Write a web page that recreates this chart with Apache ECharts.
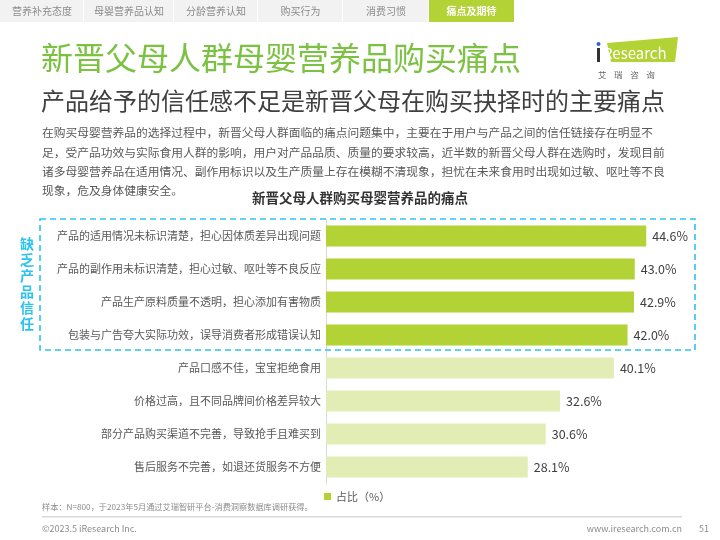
<!DOCTYPE html>
<html>
<head>
<meta charset="utf-8">
<script src="https://cdn.jsdelivr.net/npm/echarts@6/dist/echarts.min.js"></script>
<style>
html,body{margin:0;padding:0;background:#fff;}
#chart{width:720px;height:540px;}
</style>
</head>
<body>
<div id="chart"></div>
<script>
var categories = [
  '产品的适用情况未标识清楚，担心因体质差异出现问题',
  '产品的副作用未标识清楚，担心过敏、呕吐等不良反应',
  '产品生产原料质量不透明，担心添加有害物质',
  '包装与广告夸大实际功效，误导消费者形成错误认知',
  '产品口感不佳，宝宝拒绝食用',
  '价格过高，且不同品牌间价格差异较大',
  '部分产品购买渠道不完善，导致抢手且难买到',
  '售后服务不完善，如退还货服务不方便'
];
var shareValues = [44.6, 43.0, 42.9, 42.0, 40.1, 32.6, 30.6, 28.1];
var seriesName = '占比（%）';
var tabs = ['营养补充态度', '母婴营养品认知', '分龄营养认知', '购买行为', '消费习惯', '痛点及期待'];
var highlightCount = 4;

var FONT = '"Noto Sans CJK SC", "Noto Sans", sans-serif';
var DARK = '#B2D235';
var LIGHT = '#E1EDB5';
var CYAN = '#2CC3F0';

var chart = echarts.init(document.getElementById('chart'), null, {renderer: 'canvas'});

var tabBounds = [[0, 84], [84, 174], [174, 258], [258, 343], [343, 429], [429, 514]];
var graphics = [];
tabs.forEach(function (t, i) {
  var b = tabBounds[i];
  var active = i === tabs.length - 1;
  graphics.push({
    type: 'rect', silent: true,
    shape: {x: b[0], y: 0, width: b[1] - b[0] - (active ? 0 : 1), height: 22},
    style: {fill: active ? DARK : '#F2F2F2'}
  });
  graphics.push({
    type: 'text', silent: true,
    x: (b[0] + b[1]) / 2, y: 11,
    style: {text: t, fill: active ? '#fff' : '#8C8C8C', font: (active ? 'bold ' : '') + '10px ' + FONT,
      textAlign: 'center', textVerticalAlign: 'middle'}
  });
});

graphics.push({type: 'text', silent: true, x: 41, y: 58,
  style: {text: '新晋父母人群母婴营养品购买痛点', fill: '#7CC242', font: '32px ' + FONT, textVerticalAlign: 'middle'}});
graphics.push({type: 'text', silent: true, x: 41, y: 101,
  style: {text: '产品给予的信任感不足是新晋父母在购买抉择时的主要痛点', fill: '#404040', font: '24px ' + FONT, textVerticalAlign: 'middle'}});

var para = [
  '在购买母婴营养品的选择过程中，新晋父母人群面临的痛点问题集中，主要在于用户与产品之间的信任链接存在明显不',
  '足，受产品功效与实际食用人群的影响，用户对产品品质、质量的要求较高，近半数的新晋父母人群在选购时，发现目前',
  '诸多母婴营养品在适用情况、副作用标识以及生产质量上存在模糊不清现象，担忧在未来食用时出现如过敏、呕吐等不良',
  '现象，危及身体健康安全。'
];
para.forEach(function (line, i) {
  graphics.push({type: 'text', silent: true, x: 42, y: 133 + i * 19.3,
    style: {text: line, fill: '#595959', font: '11.75px ' + FONT, textVerticalAlign: 'middle'}});
});

graphics.push({type: 'text', silent: true, x: 360, y: 198,
  style: {text: '新晋父母人群购买母婴营养品的痛点', fill: '#333', font: 'bold 13.5px ' + FONT,
    textAlign: 'center', textVerticalAlign: 'middle'}});

// logo
graphics.push({type: 'polygon', silent: true,
  shape: {points: [[607, 43], [678, 37], [675, 62], [611, 62]]}, style: {fill: DARK}});
graphics.push({type: 'rect', silent: true, shape: {x: 597, y: 48, width: 3, height: 14}, style: {fill: '#333'}});
graphics.push({type: 'circle', silent: true, shape: {cx: 598.5, cy: 44, r: 2}, style: {fill: '#2B66C9'}});
graphics.push({type: 'text', silent: true, x: 603, y: 53,
  style: {text: 'Research', fill: '#fff', font: '15px ' + FONT, textVerticalAlign: 'middle'}});
graphics.push({type: 'text', silent: true, x: 598, y: 75,
  style: {text: '艾    瑞    咨    询', fill: '#666', font: '8.5px ' + FONT, textVerticalAlign: 'middle'}});

graphics.push({type: 'rect', silent: true, z: 10,
  shape: {x: 40, y: 219, width: 655, height: 131},
  style: {fill: 'none', stroke: CYAN, lineWidth: 1.6, lineDash: [6, 4]}});
graphics.push({type: 'text', silent: true, x: 27, y: 284,
  style: {text: '缺\n乏\n产\n品\n信\n任', fill: CYAN, font: 'bold 14px ' + FONT, lineHeight: 16,
    textAlign: 'center', textVerticalAlign: 'middle'}});

graphics.push({type: 'text', silent: true, x: 42, y: 507,
  style: {text: '样本：N=800，于2023年5月通过艾瑞智研平台-消费洞察数据库调研获得。', fill: '#8C8C8C', font: '8.2px ' + FONT, textVerticalAlign: 'middle'}});
graphics.push({type: 'rect', silent: true, shape: {x: 42, y: 516, width: 640, height: 1.5}, style: {fill: '#D9D9D9'}});
graphics.push({type: 'text', silent: true, x: 42, y: 529,
  style: {text: '©2023.5 iResearch Inc.', fill: '#8C8C8C', font: '9px ' + FONT, textVerticalAlign: 'middle'}});
graphics.push({type: 'text', silent: true, x: 682, y: 529,
  style: {text: 'www.iresearch.com.cn', fill: '#8C8C8C', font: '9px ' + FONT, textAlign: 'right', textVerticalAlign: 'middle'}});
graphics.push({type: 'text', silent: true, x: 709, y: 529,
  style: {text: '51', fill: '#8C8C8C', font: '9px ' + FONT, textAlign: 'right', textVerticalAlign: 'middle'}});

var option = {
  animation: false,
  textStyle: {fontFamily: FONT},
  graphic: graphics,
  legend: {
    data: [{name: seriesName, icon: 'rect'}],
    left: 319, top: 486,
    itemWidth: 7, itemHeight: 7, itemGap: 6,
    textStyle: {fontSize: 11, color: '#595959', fontFamily: FONT}
  },
  grid: {left: 326, right: 35, top: 219.5, bottom: 56.5, containLabel: false},
  xAxis: {type: 'value', min: 0, max: 50, show: false},
  yAxis: {
    type: 'category', data: categories, inverse: true,
    axisLine: {show: true, lineStyle: {color: '#D9D9D9', width: 1}},
    axisTick: {show: false},
    axisLabel: {fontSize: 11, color: '#595959', margin: 5, fontFamily: FONT}
  },
  series: [{
    name: seriesName, type: 'bar', data: shareValues, barWidth: 21,
    itemStyle: {color: function (p) { return p.dataIndex < highlightCount ? DARK : LIGHT; }},
    label: {show: true, position: 'right', distance: 6, fontSize: 12.5, color: '#404040', fontFamily: FONT,
      formatter: function (p) { return p.value.toFixed(1) + '%'; }}
  }],
  color: [DARK]
};
chart.setOption(option);
</script>
</body>
</html>
